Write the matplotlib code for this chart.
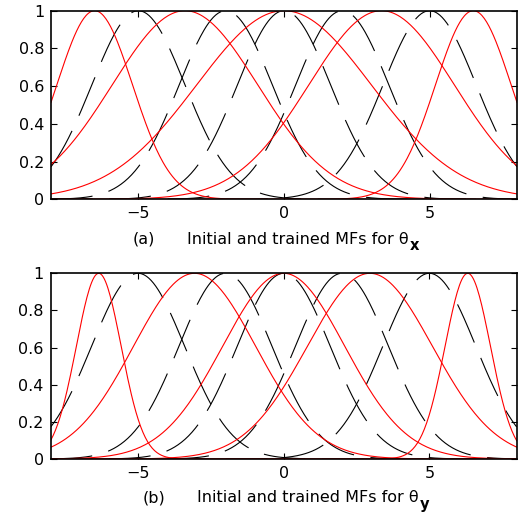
import numpy as np
import matplotlib
matplotlib.use('Agg')
import matplotlib.pyplot as plt

plt.rcParams['font.family'] = ['DejaVu Sans']
plt.rcParams['lines.scale_dashes'] = False

# membership function parameters (center, width)
init_c = [-5, -2, 0, 2, 5]
init_s = [1.6, 1.6, 1.6, 1.6, 1.6]
trained_cx = [-6.5, -3.4, 0, 3.35, 6.5]
trained_sx = [1.3, 2.5, 3.0, 2.5, 1.3]
trained_cy = [-6.35, -3.06, 0, 2.96, 6.32]
trained_sy = [0.77, 2.1, 2.1, 2.15, 0.78]

yticks = [0, 0.2, 0.4, 0.6, 0.8, 1]
ylabels = ['0', '0.2', '0.4', '0.6', '0.8', '1']
xticks = [-5, 0, 5]

x = np.linspace(-8, 8, 400)

def gaussmf(x, c, s):
    return np.exp(-(x - c)**2 / (2 * s**2))

W, H = 524, 512
fig = plt.figure(figsize=(W/100, H/100), dpi=100)
ax1 = fig.add_axes([51/W, 1-199.3/H, 466/W, 188.6/H])
ax2 = fig.add_axes([50.7/W, 1-459/H, 466/W, 185.7/H])

for ax, cs, ss in [(ax1, trained_cx, trained_sx), (ax2, trained_cy, trained_sy)]:
    for c, s in zip(init_c, init_s):
        ax.plot(x, gaussmf(x, c, s), color='k', lw=0.8, dashes=(30, 12))
    for c, s in zip(cs, ss):
        ax.plot(x, gaussmf(x, c, s), color='#ff0000', lw=0.8)
    ax.set_xlim(-8, 8)
    ax.set_ylim(0, 1)
    ax.set_xticks(xticks)
    ax.set_yticks(yticks)
    ax.set_yticklabels(ylabels)
    ax.tick_params(direction='in', top=True, right=True, length=4, width=0.8,
                   labelsize=11.5, pad=5)
    for sp in ax.spines.values():
        sp.set_linewidth(1.2)

def caption(tag, tagx, textx, base, sub):
    fig.text(tagx/W, 1-base/H, tag, fontsize=11.5, va='baseline', ha='left')
    t = fig.text(textx/W, 1-base/H, 'Initial and trained MFs for \u03b8',
                 fontsize=11.5, va='baseline', ha='left')
    fig.canvas.draw()
    bb = t.get_window_extent()
    fig.text((bb.x1 + 1)/W, 1-(base+7)/H, sub, fontsize=10.5, weight='bold',
             va='baseline', ha='left')

caption('(a)', 133, 187, 243.5, 'x')
caption('(b)', 143, 197, 502.5, 'y')

fig.savefig('out.png', dpi=100)
